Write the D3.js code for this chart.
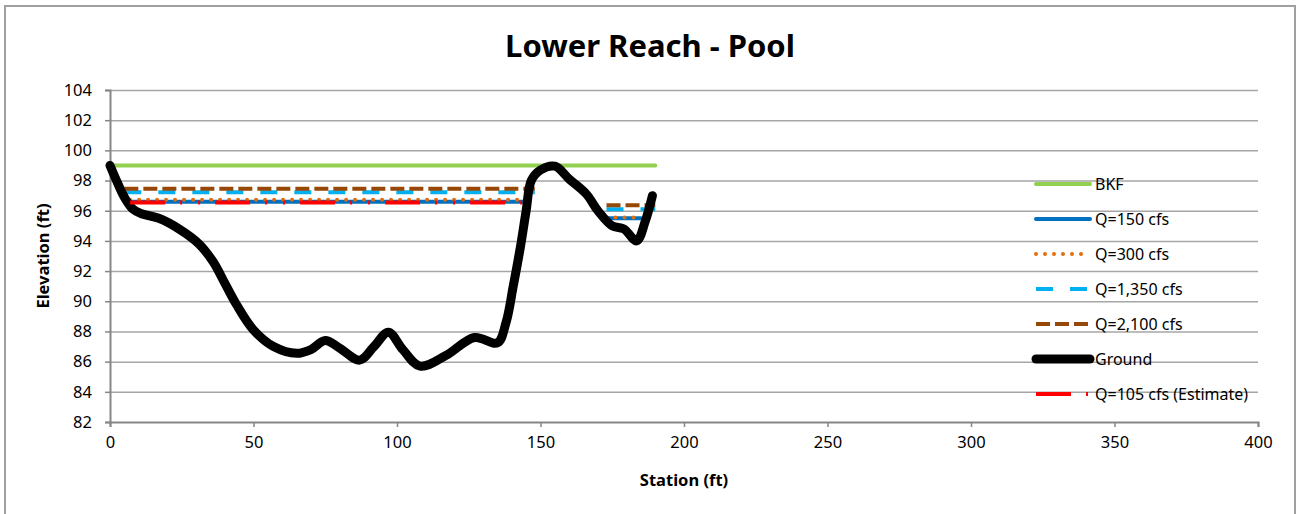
<!DOCTYPE html>
<html>
<head>
<meta charset="utf-8">
<script src="https://cdn.jsdelivr.net/npm/d3@7"></script>
<style>
  body { margin: 0; background: #fff; }
  text { font-family: "Noto Sans", "Open Sans", sans-serif; fill: #000; }
</style>
</head>
<body>
<svg width="1299" height="514"></svg>
<script>
// ground profile (station ft, elevation ft)
const groundStation = [0, 2.5, 5, 8, 11, 17, 24, 31, 36, 40, 44, 50, 57, 65, 70, 75, 80, 87, 92, 97, 102, 108, 117, 127, 135, 138, 140.5, 143, 145, 146.8, 150, 155, 160, 166, 170, 175, 179, 183.5, 186.5, 189];
const groundElev = [99.0, 97.9, 96.9, 96.1, 95.8, 95.5, 94.8, 93.8, 92.6, 91.2, 89.8, 88.1, 87.0, 86.55, 86.8, 87.4, 86.9, 86.1, 87.0, 87.95, 86.8, 85.7, 86.4, 87.6, 87.25, 88.6, 91.0, 93.6, 96.0, 98.0, 98.7, 98.95, 98.1, 97.1, 96.0, 95.0, 94.8, 94.0, 95.3, 97.0];

// water surfaces, null splits the left and right pools
const bkfStation = [0, 190];
const bkfElev = [99, 99];
const q150Station = [7, 146, null, 173, 185];
const q150Elev = [96.6, 96.6, null, 95.5, 95.5];
const q300Station = [7, 146, null, 173, 184];
const q300Elev = [96.72, 96.72, null, 95.55, 95.55];
const q1350Station = [5, 148, null, 173, 190];
const q1350Elev = [97.22, 97.22, null, 96.1, 96.1];
const q2100Station = [5, 148, null, 173, 190];
const q2100Elev = [97.45, 97.45, null, 96.36, 96.36];
const q105Station = [7, 147];
const q105Elev = [96.55, 96.55];

const seriesNames = ["BKF", "Q=150 cfs", "Q=300 cfs", "Q=1,350 cfs", "Q=2,100 cfs", "Ground", "Q=105 cfs (Estimate)"];
const xTicks = [0, 50, 100, 150, 200, 250, 300, 350, 400];
const yTicks = [82, 84, 86, 88, 90, 92, 94, 96, 98, 100, 102, 104];

const zip = (s, e) => s.map((v, i) => ({s: v, e: e[i]}));
const seriesData = [
  zip(bkfStation, bkfElev),
  zip(q150Station, q150Elev),
  zip(q300Station, q300Elev),
  zip(q1350Station, q1350Elev),
  zip(q2100Station, q2100Elev),
  zip(groundStation, groundElev),
  zip(q105Station, q105Elev)
];

const styles = [
  {color: "#92d050", width: 4, dash: null, cap: "round"},
  {color: "#0070c0", width: 4, dash: null, cap: "round"},
  {color: "#e46c0a", width: 4, dash: "0,9", cap: "round"},
  {color: "#00b0f0", width: 4, dash: "17,17", cap: "butt"},
  {color: "#974706", width: 4, dash: "14,5", cap: "butt"},
  {color: "#000", width: 9, dash: null, cap: "round"},
  {color: "#ff0000", width: 4, dash: "35,15,2,16,2,15", cap: "butt"}
];

const svg = d3.select("svg");
const plot = {left: 110, right: 1258, top: 90, bottom: 422};

const x = d3.scaleLinear().domain([0, 400]).range([plot.left, plot.right]);
const y = d3.scaleLinear().domain([82, 104]).range([plot.bottom, plot.top]);

// chart border
svg.append("rect")
  .attr("x", 5).attr("y", 6)
  .attr("width", 1290).attr("height", 530)
  .attr("fill", "none")
  .attr("stroke", "#a0a0a0")
  .attr("stroke-width", 2);

svg.append("text")
  .attr("x", 650).attr("y", 57)
  .attr("text-anchor", "middle")
  .attr("font-size", 31)
  .attr("font-weight", "bold")
  .text("Lower Reach - Pool");

// gridlines
svg.append("g")
  .attr("transform", `translate(${plot.left},0)`)
  .call(d3.axisLeft(y).tickValues(yTicks.slice(1)).tickSize(-(plot.right - plot.left)).tickFormat(""))
  .call(g => g.select(".domain").remove())
  .call(g => g.selectAll("line").attr("stroke", "#a6a6a6").attr("stroke-width", 1.5));

const yAxis = svg.append("g")
  .attr("transform", `translate(${plot.left},0)`)
  .call(d3.axisLeft(y).tickValues(yTicks).tickSize(5).tickPadding(13));
const xAxis = svg.append("g")
  .attr("transform", `translate(0,${plot.bottom})`)
  .call(d3.axisBottom(x).tickValues(xTicks).tickSize(5).tickPadding(9));
[yAxis, xAxis].forEach(a => {
  a.select(".domain").attr("stroke", "#868686").attr("stroke-width", 2);
  a.selectAll(".tick line").attr("stroke", "#868686").attr("stroke-width", 1.5);
  a.selectAll("text").attr("font-size", 16.5).attr("font-family", "Noto Sans");
});

svg.append("text")
  .attr("transform", `translate(49,${(plot.top + plot.bottom) / 2}) rotate(-90)`)
  .attr("text-anchor", "middle")
  .attr("font-size", 16.5)
  .attr("font-weight", "bold")
  .text("Elevation (ft)");

svg.append("text")
  .attr("x", (plot.left + plot.right) / 2).attr("y", 486)
  .attr("text-anchor", "middle")
  .attr("font-size", 16.5)
  .attr("font-weight", "bold")
  .text("Station (ft)");

const flatLine = d3.line()
  .defined(d => d.s !== null)
  .x(d => x(d.s))
  .y(d => y(d.e));
const smoothLine = d3.line()
  .curve(d3.curveCatmullRom.alpha(0.5))
  .x(d => x(d.s))
  .y(d => y(d.e));

seriesData.forEach((data, i) => {
  const st = styles[i];
  svg.append("path")
    .datum(data)
    .attr("fill", "none")
    .attr("stroke", st.color)
    .attr("stroke-width", st.width)
    .attr("stroke-linecap", st.cap)
    .attr("stroke-linejoin", "round")
    .attr("stroke-dasharray", st.dash)
    .attr("d", seriesNames[i] === "Ground" ? smoothLine : flatLine);
});

// legend
const legend = svg.append("g");
seriesNames.forEach((name, i) => {
  const st = styles[i];
  const ly = 184 + i * 35;
  legend.append("line")
    .attr("x1", 1036).attr("x2", 1090)
    .attr("y1", ly).attr("y2", ly)
    .attr("stroke", st.color)
    .attr("stroke-width", st.width)
    .attr("stroke-linecap", st.cap)
    .attr("stroke-dasharray", st.dash);
  legend.append("text")
    .attr("x", 1095).attr("y", ly)
    .attr("dy", "0.35em")
    .attr("font-size", 16)
    .text(name);
});
</script>
</body>
</html>
